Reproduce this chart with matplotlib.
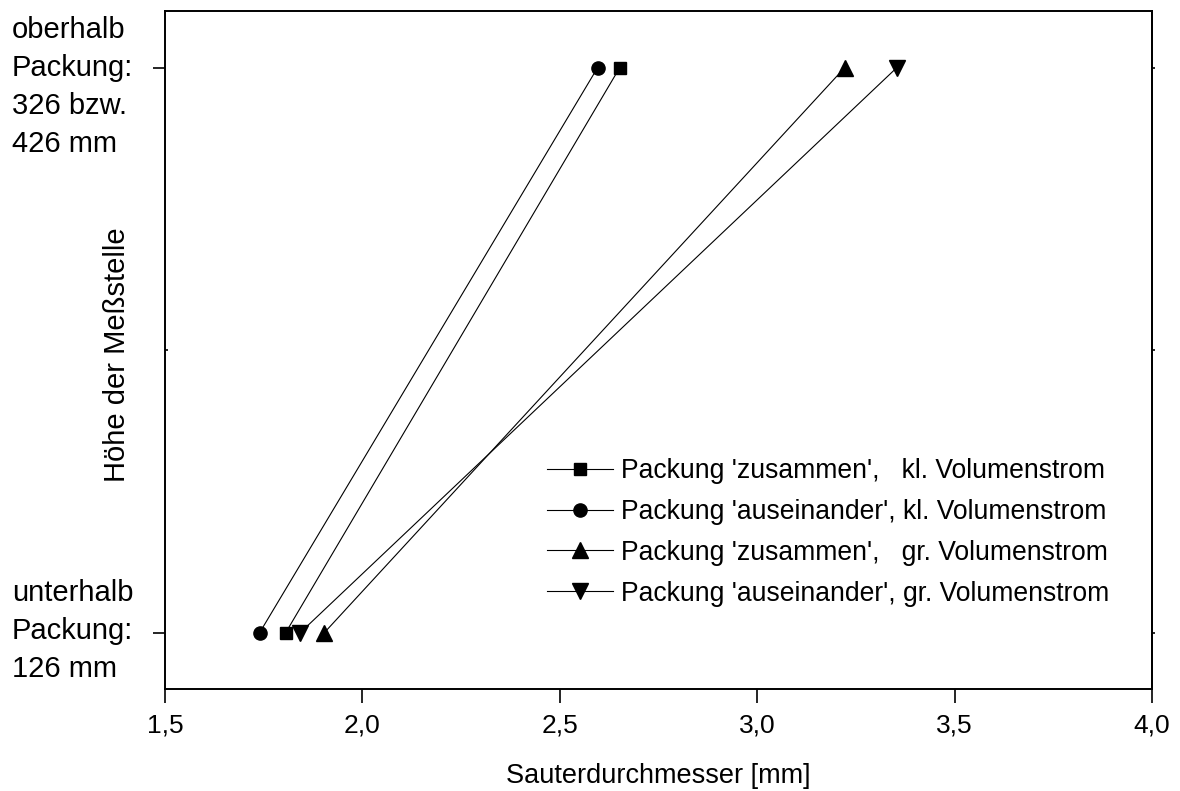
import matplotlib
matplotlib.use("Agg")
import matplotlib.pyplot as plt
from matplotlib.ticker import FuncFormatter
from matplotlib.transforms import blended_transform_factory

plt.rcParams['font.family'] = ['Liberation Sans', 'DejaVu Sans']

# Messhöhe: 0 = unterhalb Packung, 2 = oberhalb Packung
hoehe = [0, 2]

# Sauterdurchmesser [mm] (unten, oben)
zus_kl = [1.806, 2.652]
ause_kl = [1.740, 2.596]
zus_gr = [1.904, 3.222]
ause_gr = [1.843, 3.354]

labels = ["Packung 'zusammen',   kl. Volumenstrom",
          "Packung 'auseinander', kl. Volumenstrom",
          "Packung 'zusammen',   gr. Volumenstrom",
          "Packung 'auseinander', gr. Volumenstrom"]

x_ticks = [1.5, 2.0, 2.5, 3.0, 3.5, 4.0]
y_ticks = [0, 2]
y_minor = [1]
y_tick_text = ["unterhalb\nPackung:\n126 mm", "oberhalb\nPackung:\n326 bzw.\n426 mm"]

fig = plt.figure(figsize=(11.8, 7.91), dpi=100)
ax = fig.add_axes([165 / 1180, 1 - 689 / 791, (1152 - 165) / 1180, (689 - 11) / 791])

lw = 0.8
ax.plot(zus_kl, hoehe, color='black', lw=lw, marker='s', ms=8, label=labels[0])
ax.plot(ause_kl, hoehe, color='black', lw=lw, marker='o', ms=9.5, label=labels[1])
ax.plot(zus_gr, hoehe, color='black', lw=lw, marker='^', ms=11, label=labels[2])
ax.plot(ause_gr, hoehe, color='black', lw=lw, marker='v', ms=11, label=labels[3])

ax.set_xlim(1.5, 4.0)
ax.set_ylim(-0.2, 2.2)
ax.set_xticks(x_ticks)
ax.xaxis.set_major_formatter(FuncFormatter(lambda v, p: f"{v:.1f}".replace('.', ',')))
ax.set_yticks(y_ticks)
ax.set_yticks(y_minor, minor=True)
ax.set_yticklabels([])
ax.tick_params(axis='x', direction='out', length=10, width=1.2, labelsize=19, pad=8)
ax.tick_params(axis='y', which='major', direction='out', length=9, width=1.2, right=False)
ax.tick_params(axis='y', which='minor', direction='in', length=2, width=1.2, right=False)

# rechte Achse nur mit kleinen Strichen
sec = ax.secondary_yaxis('right')
sec.set_yticks(y_ticks + y_minor)
sec.set_yticklabels([])
sec.tick_params(direction='out', length=2.5, width=1.2)
sec.spines['right'].set_linewidth(1.4)

for s in ax.spines.values():
    s.set_linewidth(1.4)

# y-Beschriftungen linksbündig am Bildrand
tr = blended_transform_factory(fig.transFigure, ax.transData)
ax.text(12 / 1180, 0.005, y_tick_text[0], transform=tr, ha='left', va='center',
        fontsize=21, linespacing=1.46)
ax.text(12 / 1180, 1.931, y_tick_text[1], transform=tr, ha='left', va='center',
        fontsize=21, linespacing=1.46)

ax.set_xlabel("Sauterdurchmesser [mm]", fontsize=19.5, labelpad=18)
fig.text(117 / 1180, 1 - 355 / 791, "Höhe der Meßstelle", rotation=90,
         ha='center', va='center', fontsize=21)

ax.legend(loc='upper left', bbox_to_anchor=(547 / 1180, 1 - 458 / 791),
          bbox_transform=fig.transFigure, frameon=False, fontsize=19.1,
          handlelength=2.5, handletextpad=0.3, labelspacing=0.56,
          borderpad=0, borderaxespad=0)

fig.savefig("out.png", dpi=100)
